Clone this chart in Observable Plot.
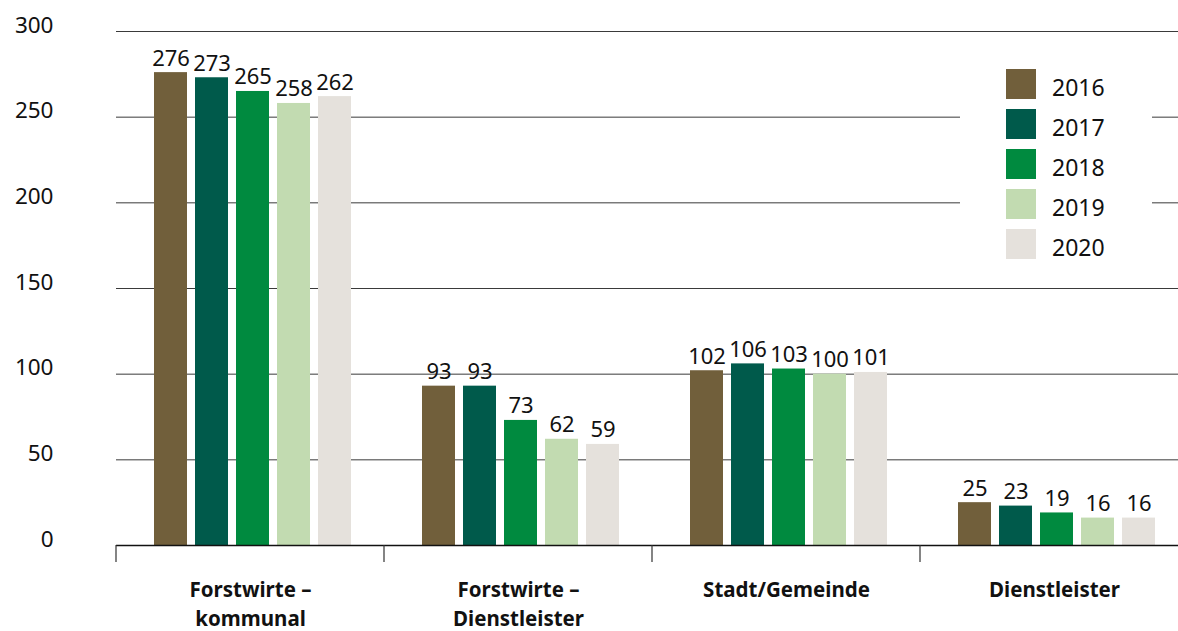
<!DOCTYPE html>
<html><head><meta charset="utf-8">
<script src="https://cdn.jsdelivr.net/npm/d3@7"></script>
<script src="https://cdn.jsdelivr.net/npm/@observablehq/plot@0.6"></script>
<style>
html,body{margin:0;padding:0;background:#fff;overflow:hidden}
#wrap{position:relative;width:1178px;height:631px;font-family:"Noto Sans",sans-serif}
#legend{position:absolute;left:960px;top:45px;width:192px;height:232px;background:#fff}
.item{position:absolute;left:46px;height:30px;display:flex;align-items:center}
.sw{width:30px;height:30px;margin-right:16px}
.lt{font-size:23px;color:#111;position:relative;top:3px}
</style></head><body>
<div id="wrap"><div id="chart"></div><div id="legend"></div></div>
<script>
const categories = ["Forstwirte – kommunal", "Forstwirte – Dienstleister", "Stadt/Gemeinde", "Dienstleister"];
const categoryLabels = ["Forstwirte –\nkommunal", "Forstwirte –\nDienstleister", "Stadt/Gemeinde", "Dienstleister"];
const years = ["2016", "2017", "2018", "2019", "2020"];
const yearColors = ["#715f3b", "#005a4b", "#008a3f", "#c2dbb1", "#e5e1dc"];
const values2016 = [276, 93, 102, 25];
const values2017 = [273, 93, 106, 23];
const values2018 = [265, 73, 103, 19];
const values2019 = [258, 62, 100, 16];
const values2020 = [262, 59, 101, 16];
const yTicks = [0, 50, 100, 150, 200, 250, 300];

const series = [values2016, values2017, values2018, values2019, values2020];
const data = [];
categories.forEach((c, i) => years.forEach((y, j) => data.push({category: c, year: y, value: series[j][i]})));

const chart = Plot.plot({
  width: 1178,
  height: 631,
  marginLeft: 115,
  marginRight: -10,
  marginTop: 31,
  marginBottom: 86,
  style: {fontFamily: "Noto Sans, sans-serif", background: "#fff", overflow: "visible"},
  fx: {domain: categories, padding: 0, label: null},
  x: {domain: years, paddingInner: 0.2, paddingOuter: 0.85, align: 0.53, axis: null},
  y: {domain: [0, 300], label: null},
  color: {domain: years, range: yearColors},
  marks: [
    Plot.gridY(yTicks, {stroke: "#3a3a3a", strokeOpacity: 1, strokeWidth: 1}),
    Plot.axisY(yTicks, {tickSize: 0, tickPadding: 63, fontSize: 22.5, dy: -6, fill: "#111", label: null}),
    Plot.barY(data, {fx: "category", x: "year", y: "value", fill: "year"}),
    Plot.text(data, {fx: "category", x: "year", y: "value", text: d => String(d.value), lineAnchor: "bottom", dy: -7, fontSize: 22, fill: "#111"}),
    Plot.ruleY([0], {stroke: "#111", strokeWidth: 1.5}),
    Plot.axisFx({anchor: "bottom", tickSize: 0, tickPadding: 30, fontSize: 20.5, fontWeight: "bold", fill: "#111", lineHeight: 1.45, tickFormat: d => categoryLabels[categories.indexOf(d)], label: null})
  ]
});
document.getElementById("chart").appendChild(chart);

// group-boundary tick marks on the x axis, placed with the fx scale
const fx = chart.scale("fx");
const y = chart.scale("y");
const y0 = y.apply(0);
const svg = d3.select(chart);
const edges = categories.map(c => fx.apply(c)).concat([fx.apply(categories[categories.length - 1]) + fx.bandwidth]);
svg.append("g").selectAll("line").data(edges).join("line")
  .attr("x1", d => d).attr("x2", d => d)
  .attr("y1", y0).attr("y2", y0 + 17)
  .attr("stroke", "#333").attr("stroke-width", 1.2);

// legend
const legend = document.getElementById("legend");
years.forEach((yr, i) => {
  const it = document.createElement("div");
  it.className = "item";
  it.style.top = (24 + i * 40) + "px";
  const sw = document.createElement("div");
  sw.className = "sw";
  sw.style.background = chart.scale("color").apply(yr);
  const lt = document.createElement("span");
  lt.className = "lt";
  lt.textContent = yr;
  it.appendChild(sw); it.appendChild(lt);
  legend.appendChild(it);
});
</script>
</body></html>
